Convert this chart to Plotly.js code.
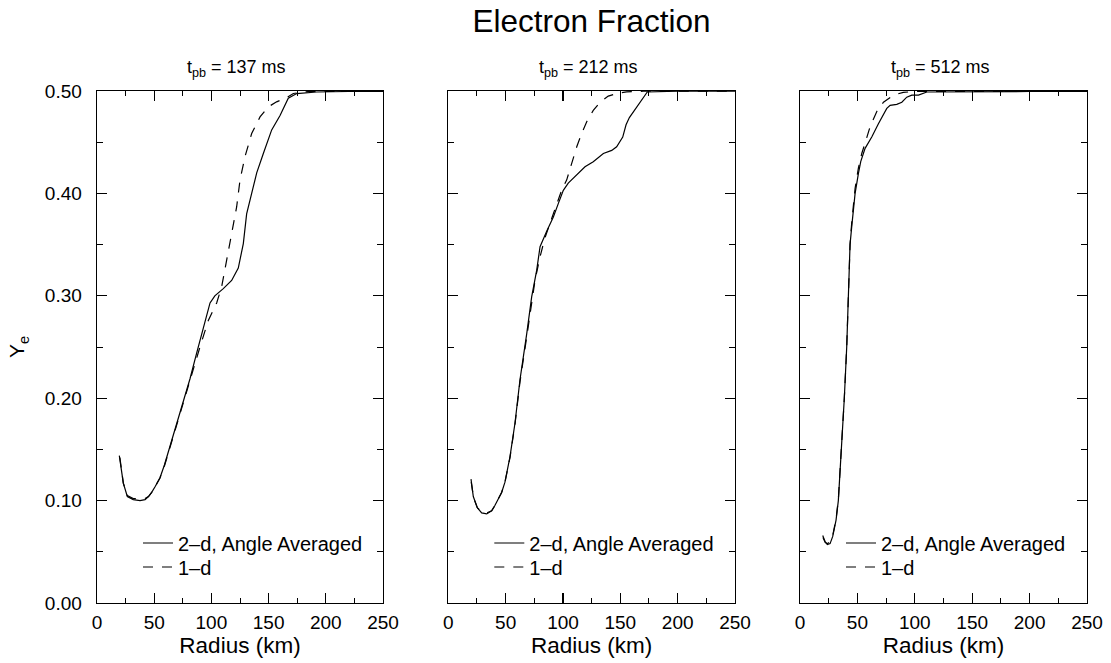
<!DOCTYPE html>
<html>
<head>
<meta charset="utf-8">
<script src="https://cdn.plot.ly/plotly-3.0.1.min.js"></script>
<style>html,body{margin:0;padding:0;background:#fff;}#chart{width:1111px;height:663px;}</style>
</head>
<body>
<div id="chart"></div>
<script>
// ---- data ----
const panelTitles = ["t<sub>pb</sub> = 137 ms", "t<sub>pb</sub> = 212 ms", "t<sub>pb</sub> = 512 ms"];
const seriesNames = ["2\u2013d, Angle Averaged", "1\u2013d"];
const xTickVals = [0, 50, 100, 150, 200, 250];
const yTickVals = [0, 0.1, 0.2, 0.3, 0.4, 0.5];

// t_pb = 137 ms
const p1_r_2d = [19.5, 23, 26.5, 31.7, 37.6, 42, 45, 47.8, 51, 55, 59, 63.8, 71, 81.3, 87.1, 94.4, 98.8, 103, 110.4, 117.7, 123.5, 127.9, 130.8, 135.2, 139.6, 145.4, 152.7, 160, 167.2, 174.6, 192, 220, 250];
const p1_ye_2d = [0.144, 0.117, 0.104, 0.101, 0.100, 0.101, 0.104, 0.108, 0.114, 0.122, 0.135, 0.153, 0.182, 0.219, 0.244, 0.273, 0.293, 0.300, 0.307, 0.315, 0.327, 0.351, 0.380, 0.400, 0.420, 0.439, 0.462, 0.476, 0.493, 0.4975, 0.499, 0.4995, 0.4995];
const p1_r_1d = [20, 23, 26.5, 31.7, 37.6, 42, 45, 47.8, 51, 55, 59, 63.8, 71, 81.3, 90, 97.3, 104.6, 109, 113.4, 117.7, 122.1, 125, 129.4, 135.2, 142.5, 149.7, 157, 165.8, 171.6, 185, 210, 250];
const p1_ye_1d = [0.142, 0.117, 0.105, 0.102, 0.102, 0.102, 0.104, 0.108, 0.114, 0.122, 0.134, 0.152, 0.180, 0.217, 0.250, 0.276, 0.293, 0.309, 0.335, 0.361, 0.387, 0.413, 0.436, 0.4585, 0.4747, 0.4845, 0.4894, 0.4936, 0.4976, 0.4995, 0.4998, 0.4998];

// t_pb = 212 ms
const p2_r_2d = [19.8, 21.8, 25.3, 29.1, 33.5, 37.8, 40.5, 43.6, 46.5, 49.4, 53.8, 58.2, 62.5, 68.4, 72.7, 77.1, 80, 85.8, 91.6, 95.9, 100.3, 104.6, 112, 119.2, 126.4, 135.2, 142.5, 146.8, 152.1, 155, 157.9, 164.3, 170, 173.5, 200, 250];
const p2_ye_2d = [0.121, 0.104, 0.093, 0.088, 0.087, 0.090, 0.095, 0.101, 0.108, 0.118, 0.143, 0.176, 0.218, 0.263, 0.299, 0.325, 0.348, 0.363, 0.377, 0.390, 0.403, 0.410, 0.418, 0.426, 0.431, 0.439, 0.442, 0.4455, 0.455, 0.467, 0.474, 0.4845, 0.494, 0.499, 0.4998, 0.4998];
const p2_r_1d = [20, 22, 25.3, 29.1, 33.5, 37.8, 40.5, 43.6, 46.5, 49.4, 53.8, 58.2, 62.5, 68.4, 72.7, 75.6, 80, 84.1, 90, 95, 98.8, 103.2, 107.6, 112, 116.3, 120.7, 126.4, 132.3, 139.5, 146.8, 155.5, 170, 200, 250];
const p2_ye_1d = [0.118, 0.103, 0.093, 0.089, 0.088, 0.090, 0.095, 0.101, 0.108, 0.118, 0.142, 0.175, 0.216, 0.260, 0.292, 0.315, 0.338, 0.356, 0.375, 0.390, 0.403, 0.413, 0.429, 0.4455, 0.4585, 0.470, 0.481, 0.489, 0.495, 0.4976, 0.4992, 0.4998, 0.4998, 0.4998];

// t_pb = 512 ms
const p3_r_2d = [19.8, 21.8, 23.8, 26.2, 28.5, 31.4, 33.4, 35.5, 37.2, 38.6, 40.7, 42.1, 43.6, 45.1, 48, 50.9, 52.9, 56.7, 62.5, 68.3, 75.6, 78.5, 84.3, 88.7, 93, 97.4, 103.2, 110.5, 150, 200, 250];
const p3_ye_2d = [0.066, 0.060, 0.057, 0.058, 0.065, 0.081, 0.100, 0.137, 0.169, 0.200, 0.250, 0.300, 0.350, 0.368, 0.400, 0.4195, 0.431, 0.444, 0.455, 0.468, 0.483, 0.486, 0.487, 0.489, 0.494, 0.496, 0.496, 0.499, 0.4995, 0.4995, 0.4995];
const p3_r_1d = [20, 22, 24, 26.2, 28.5, 31.4, 33.4, 35.5, 37.2, 38.6, 40.7, 42.1, 43.6, 45.1, 48, 50.9, 53.8, 57.5, 61, 66.9, 72.7, 81.4, 90, 98.8, 150, 250];
const p3_ye_1d = [0.064, 0.059, 0.058, 0.060, 0.066, 0.082, 0.101, 0.137, 0.169, 0.200, 0.250, 0.300, 0.350, 0.372, 0.405, 0.425, 0.439, 0.452, 0.465, 0.480, 0.489, 0.496, 0.4986, 0.4995, 0.4998, 0.4998];

// ---- build ----
const FONT = "Liberation Sans, Arial, Helvetica, sans-serif";
const panels = [
  {r2: p1_r_2d, y2: p1_ye_2d, r1: p1_r_1d, y1: p1_ye_1d},
  {r2: p2_r_2d, y2: p2_ye_2d, r1: p2_r_1d, y1: p2_ye_1d},
  {r2: p3_r_2d, y2: p3_ye_2d, r1: p3_r_1d, y1: p3_ye_1d}
];
const W = 1111, H = 663, ML = 97, MR = 24, MT = 91, MB = 60;
const PW = W - ML - MR, PH = H - MT - MB;
const pxDomains = [[97, 383], [448.3, 735], [800, 1087]];
const legendRowsPx = [543, 567];

const traces = [];
const layout = {
  width: W, height: H,
  margin: {l: ML, r: MR, t: MT, b: MB, pad: 0},
  paper_bgcolor: "#fff", plot_bgcolor: "#fff",
  font: {family: FONT, color: "#000", size: 19},
  showlegend: true,
  title: {text: "Electron Fraction", x: 591.5 / W, xref: "container", xanchor: "center",
          y: 1 - 21 / H, yref: "container", yanchor: "middle", font: {size: 31.5, family: FONT, color: "#000"}},
  annotations: []
};

let legendCount = 0;
panels.forEach((p, i) => {
  const n = i + 1;
  const xa = n === 1 ? "x" : "x" + n;
  const ya = n === 1 ? "y" : "y" + n;
  const series = [
    {x: p.r2, y: p.y2, dash: "solid"},
    {x: p.r1, y: p.y1, dash: "10px,9px"}
  ];
  series.forEach((s, j) => {
    legendCount += 1;
    const lg = legendCount === 1 ? "legend" : "legend" + legendCount;
    traces.push({x: s.x, y: s.y, type: "scatter", mode: "lines", name: seriesNames[j],
      xaxis: xa, yaxis: ya, legend: lg, line: {color: "#000", width: 1.2, dash: s.dash}});
    layout[lg] = {
      x: (pxDomains[i][0] + 41 - ML) / PW, xanchor: "left",
      y: (H - MB - legendRowsPx[j]) / PH, yanchor: "middle",
      bgcolor: "rgba(0,0,0,0)", borderwidth: 0,
      font: {size: 20, family: FONT}
    };
  });

  const dom = [(pxDomains[i][0] - ML) / PW, (pxDomains[i][1] - ML) / PW];
  layout["xaxis" + (n === 1 ? "" : n)] = {
    domain: dom, range: [0, 250], anchor: ya,
    showline: true, linecolor: "#000", linewidth: 1.4, mirror: "allticks",
    ticks: "inside", ticklen: 10, tickwidth: 1.2, tickcolor: "#000",
    tickvals: xTickVals, showgrid: false, zeroline: false,
    tickfont: {size: 19, family: FONT}, ticklabelstandoff: 2,
    minor: {dtick: 25, tick0: 0, ticks: "inside", ticklen: 5, tickwidth: 1, tickcolor: "#000", showgrid: false},
    title: {text: "Radius (km)", font: {size: 22.5, family: FONT}, standoff: 4}
  };
  layout["yaxis" + (n === 1 ? "" : n)] = {
    domain: [0, 1], range: [0, 0.5], anchor: xa,
    showline: true, linecolor: "#000", linewidth: 1.4, mirror: "allticks",
    ticks: "inside", ticklen: 10, tickwidth: 1.2, tickcolor: "#000",
    tickvals: yTickVals, tickformat: ".2f", showgrid: false, zeroline: false,
    showticklabels: n === 1, tickfont: {size: 19, family: FONT}, ticklabelstandoff: 10,
    minor: {dtick: 0.05, tick0: 0, ticks: "inside", ticklen: 6, tickwidth: 1, tickcolor: "#000", showgrid: false},
    title: n === 1 ? {text: "Y<sub>e</sub>", font: {size: 21, family: FONT}, standoff: 14} : {text: ""}
  };
  layout.annotations.push({
    text: panelTitles[i], xref: xa, x: 122, xanchor: "center",
    yref: "paper", y: 1 + (MT - 68) / PH, yanchor: "middle",
    showarrow: false, font: {size: 18, family: FONT}
  });
});

Plotly.newPlot("chart", traces, layout, {staticPlot: true, displayModeBar: false});
</script>
</body>
</html>
